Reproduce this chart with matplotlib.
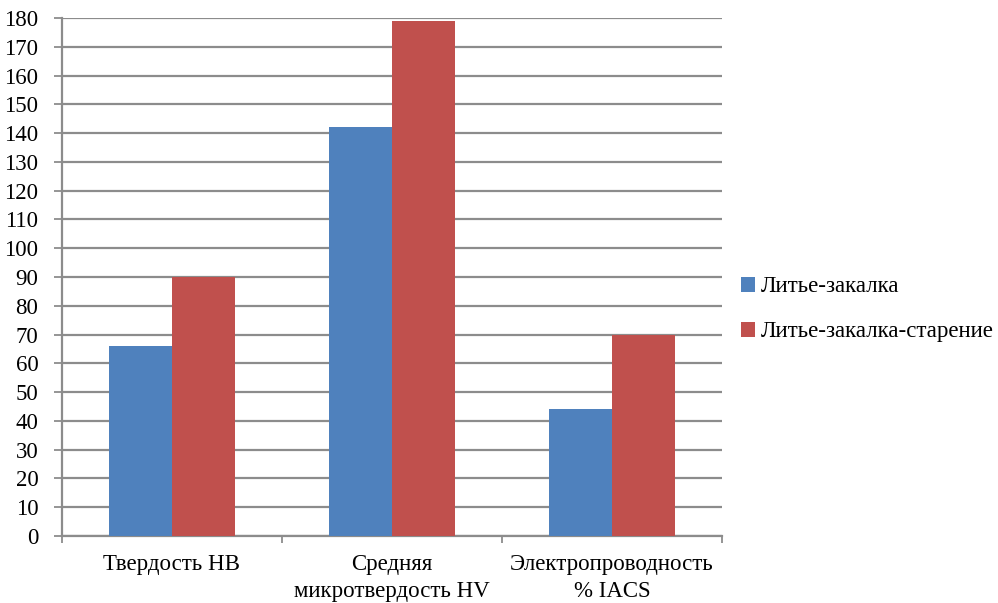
import matplotlib
matplotlib.use("Agg")
import matplotlib.pyplot as plt
import numpy as np

categories = ["Твердость НВ", "Средняя\nмикротвердость HV", "Электропроводность\n% IACS"]
series_names = ["Литье-закалка", "Литье-закалка-старение"]
quench = [66, 142, 44]
quench_aged = [90, 179, 70]
y_ticks = list(range(0, 181, 10))

blue = "#4F81BD"
red = "#C0504D"
grid_grey = "#8C8C8C"

plt.rcParams["font.family"] = ["Liberation Serif", "DejaVu Serif"]

fig = plt.figure(figsize=(9.98, 6.03), dpi=100)
ax = fig.add_axes([0.0621, 0.1111, 0.6613, 0.859])

x = np.arange(len(categories))
w = 0.288
b1 = ax.bar(x - w / 2, quench, width=w, color=blue, label=series_names[0], zorder=3)
b2 = ax.bar(x + w / 2, quench_aged, width=w, color=red, label=series_names[1], zorder=3)

ax.set_xlim(-0.5, len(categories) - 0.5)
ax.set_ylim(0, 180)
ax.set_yticks(y_ticks)
ax.yaxis.grid(True, color=grid_grey, linewidth=1.6, zorder=0)
ax.set_axisbelow(True)

# category boundaries carry the x tick marks; labels sit at the centres
ax.set_xticks(np.arange(-0.5, len(categories), 1.0))
ax.set_xticklabels([])
ax.set_xticks(x, minor=True)
ax.set_xticklabels(categories, minor=True, fontsize=16.5, linespacing=1.35)
ax.tick_params(axis="x", which="minor", length=0, pad=13)
ax.tick_params(axis="x", which="major", length=5, width=1.3, color=grid_grey)
ax.tick_params(axis="y", length=6, width=1.3, color=grid_grey, labelsize=16.5, pad=11)

for side in ("top", "right"):
    ax.spines[side].set_visible(False)
for side in ("left", "bottom"):
    ax.spines[side].set_color(grid_grey)
    ax.spines[side].set_linewidth(1.6)

fig.legend(handles=[b1, b2], labels=series_names, loc="center left",
           bbox_to_anchor=(0.722, 0.487), frameon=False, fontsize=16.5,
           handlelength=0.6, handleheight=0.6, handletextpad=0.25,
           labelspacing=1.05)

fig.savefig("out.png", dpi=100)
